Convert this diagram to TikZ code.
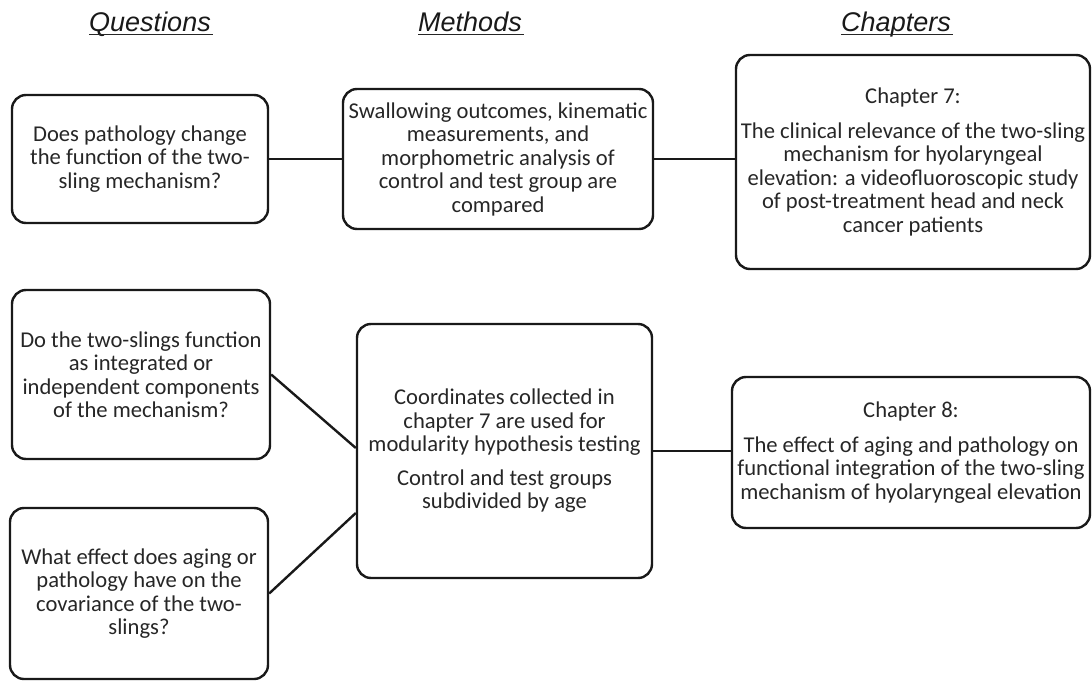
\documentclass[tikz,border=0pt]{standalone}
\usepackage{fontspec}
\setmainfont{Carlito}
\newfontfamily\headfont{Liberation Sans}
\usetikzlibrary{calc}
\tikzset{
  box/.style={draw=black!90, line width=2.4pt, rounded corners=14pt, align=center, inner sep=0pt,
    font=\fontsize{22.6}{23.5}\selectfont, text=black!85},
  link/.style={draw=black!90, line width=2.4pt},
  head/.style={font=\headfont\itshape\fontsize{27}{27}\selectfont, anchor=base, inner sep=0pt, text=black!90},
  uline/.style={draw=black!85, line width=1.8pt}
}
\begin{document}
\begin{tikzpicture}[x=1pt,y=-1pt]
\useasboundingbox (0,0) rectangle (1092,682);
% headings
\node[head] (hq) at (150,31.5) {Questions};
\node[head] (hm) at (470,31.5) {Methods};
\node[head] (hc) at (896,31.5) {Chapters};
\draw[uline] ($(hq.base west)+(0,3)$) -- ($(hq.base east)+(2,3)$);
\draw[uline] ($(hm.base west)+(0,3)$) -- ($(hm.base east)+(2,3)$);
\draw[uline] ($(hc.base west)+(0,3)$) -- ($(hc.base east)+(2,3)$);
% boxes
\node[box, minimum width=256pt, minimum height=128pt] (q1) at (140,159)
  {Does pathology change\\the function of the two-\\sling mechanism?};
\node[box, minimum width=310pt, minimum height=140pt] (m1) at (498,159)
  {Swallowing outcomes, kinematic\\measurements, and\\morphometric analysis of\\control and test group are\\compared};
\node[box, minimum width=354pt, minimum height=214pt] (c1) at (913,162)
  {Chapter 7:\\[11pt]The clinical relevance of the two-sling\\mechanism for hyolaryngeal\\elevation: a videofluoroscopic study\\of post-treatment head and neck\\cancer patients};
\node[box, minimum width=258pt, minimum height=169pt] (q2) at (141,374.5)
  {Do the two-slings function\\as integrated or\\independent components\\of the mechanism?};
\node[box, minimum width=258pt, minimum height=171pt] (q3) at (139,593.5)
  {What effect does aging or\\pathology have on the\\covariance of the two-\\slings?};
\node[box, minimum width=295pt, minimum height=254pt] (m2) at (504.5,451)
  {Coordinates collected in\\chapter 7 are used for\\modularity hypothesis testing\\[10pt]Control and test groups\\subdivided by age};
\node[box, minimum width=358pt, minimum height=151pt] (c2) at (911,452.5)
  {Chapter 8:\\[11pt]The effect of aging and pathology on\\functional integration of the two-sling\\mechanism of hyolaryngeal elevation};
% connectors
\draw[link] (q1.east) -- (q1.east -| m1.west);
\draw[link] (m1.east) -- (m1.east -| c1.west);
\draw[link] (m2.east) -- (m2.east -| c2.west);
\draw[link] (q2.east) -- ($(m2.west)+(0,-3)$);
\draw[link] (q3.east) -- ($(m2.west)+(0,62)$);
\end{tikzpicture}
\end{document}
